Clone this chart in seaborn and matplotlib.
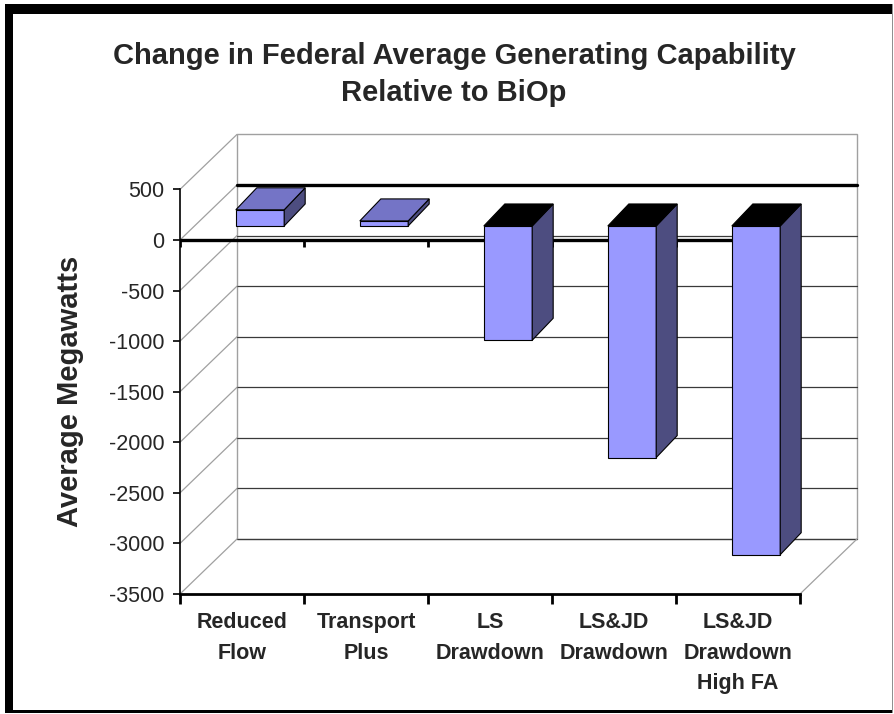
import matplotlib
matplotlib.use("Agg")
import matplotlib.pyplot as plt
import matplotlib.transforms as mtransforms
from matplotlib.patches import Polygon, Rectangle
import numpy as np
import pandas as pd
import seaborn as sns

# Données
categories = ["Reduced\nFlow", "Transport\nPlus", "LS\nDrawdown",
              "LS&JD\nDrawdown", "LS&JD\nDrawdown\nHigh FA"]
megawatts = [160, 50, -1130, -2290, -3250]
y_ticks = [500, 0, -500, -1000, -1500, -2000, -2500, -3000, -3500]
y_tick_labels = ["500", "0", "-500", "-1000", "-1500", "-2000", "-2500", "-3000", "-3500"]

FRONT = "#9999FF"
TOP = "#7474C6"
SIDE = "#4D4D80"
WALL_EDGE = "#A0A0A0"
W, H = 895, 714

# décalages "3D" en pixels (x vers la droite, y vers le haut)
WALL_OFF = np.array([57.0, 55.0])
BAR_FRONT_OFF = np.array([18.0, 14.0])
BAR_DEPTH = np.array([21.0, 22.0])

sns.set_theme(style="white")
plt.rcParams["font.family"] = ["Liberation Sans", "DejaVu Sans"]
plt.rcParams["axes.unicode_minus"] = False

fig = plt.figure(figsize=(W / 100, H / 100), dpi=100)
fig.patch.set_facecolor("white")


def fig_rect(x, y, w, h, **kw):
    # rectangle en pixels image (origine en haut à gauche)
    fig.patches.append(Rectangle((x / W, 1 - (y + h) / H), w / W, h / H,
                                 transform=fig.transFigure, **kw))


# cadre noir autour du graphique
fig_rect(5, 4, 888, 10, facecolor="black", edgecolor="none")
fig_rect(5, 4, 8, 709, facecolor="black", edgecolor="none")
fig_rect(5, 710, 888, 3, facecolor="black", edgecolor="none")
fig_rect(892, 4, 1, 709, facecolor="#909090", edgecolor="none")

ax = fig.add_axes([180 / W, (H - 594) / H, 620 / W, (594 - 189.4) / H])
ax.set_facecolor("none")

df = pd.DataFrame({"scenario": categories, "mw": megawatts})
sns.barplot(data=df, x="scenario", y="mw", ax=ax, color=FRONT, saturation=1,
            width=0.39, edgecolor="black", linewidth=0.8, zorder=3)
bars = list(ax.patches)

ax.set_xlim(-0.5, len(categories) - 0.5)
ax.set_ylim(-3500, 500)
x_lo, x_hi = ax.get_xlim()

ident = mtransforms.IdentityTransform()


def disp(x, y):
    return ax.transData.transform((x, y))


# mur du fond + quadrillage
back = ax.transData + mtransforms.Affine2D().translate(*WALL_OFF)
ax.add_patch(Rectangle((x_lo, -3500), x_hi - x_lo, 4000, transform=back,
                       facecolor="white", edgecolor=WALL_EDGE, lw=1.0,
                       zorder=0.5, clip_on=False))
for t in y_ticks[1:]:
    if t == 0:
        ax.plot([x_lo, x_hi], [t, t], transform=back, color="black", lw=2.4,
                zorder=0.7, clip_on=False)
    else:
        ax.plot([x_lo, x_hi], [t, t], transform=back, color="#3a3a3a", lw=0.9,
                zorder=0.6, clip_on=False)

# mur de gauche (diagonales) et plancher
for t in y_ticks:
    p0 = disp(x_lo, t)
    p1 = p0 + WALL_OFF
    ax.plot([p0[0], p1[0]], [p0[1], p1[1]], transform=ident, color=WALL_EDGE,
            lw=0.9, zorder=0.6, clip_on=False)
p0 = disp(x_hi, -3500)
p1 = p0 + WALL_OFF
ax.plot([p0[0], p1[0]], [p0[1], p1[1]], transform=ident, color=WALL_EDGE,
        lw=0.9, zorder=0.6, clip_on=False)

# axe des catégories à 0 (derrière les barres)
px_per_unit = disp(0, 0)[1] - disp(0, -1)[1]
bounds = np.arange(x_lo, x_hi + 0.01, 1.0)
ax.axhline(0, color="black", lw=2.4, zorder=1)
ax.vlines(bounds, 0, -7 / px_per_unit, color="black", lw=2.0, zorder=1)

# faces des barres
front_tr = ax.transData + mtransforms.Affine2D().translate(*BAR_FRONT_OFF)
for p, v in zip(bars, megawatts):
    p.set_transform(front_tr)
    p.set_clip_on(False)
    x0 = p.get_x()
    x1 = x0 + p.get_width()
    lo, hi = min(v, 0), max(v, 0)
    fl = disp(x0, hi) + BAR_FRONT_OFF
    fr = disp(x1, hi) + BAR_FRONT_OFF
    br = disp(x1, lo) + BAR_FRONT_OFF
    top = [fl, fr, fr + BAR_DEPTH, fl + BAR_DEPTH]
    side = [fr, br, br + BAR_DEPTH, fr + BAR_DEPTH]
    ax.add_patch(Polygon(side, closed=True, transform=ident, facecolor=SIDE,
                         edgecolor="black", lw=0.8, zorder=3, clip_on=False))
    ax.add_patch(Polygon(top, closed=True, transform=ident,
                         facecolor=TOP if v > 0 else "black",
                         edgecolor="black", lw=0.8, zorder=3, clip_on=False))

# axes
for s in ["top", "right"]:
    ax.spines[s].set_visible(False)
ax.spines["left"].set_color("black")
ax.spines["left"].set_linewidth(1.2)
ax.spines["bottom"].set_color("black")
ax.spines["bottom"].set_linewidth(2.0)

ax.set_yticks(y_ticks)
ax.set_yticklabels(y_tick_labels, fontsize=15.5)
ax.tick_params(axis="y", direction="out", length=5, width=1.2, color="black",
               pad=6, left=True)

ax.set_xticks(range(len(categories)))
ax.set_xticklabels(categories, fontsize=15.5, fontweight="bold", linespacing=1.6)
ax.set_xticks(bounds, minor=True)
ax.tick_params(axis="x", which="major", length=0, pad=13)
ax.tick_params(axis="x", which="minor", direction="out", length=7, width=2.0,
               color="black", bottom=True)
ax.set_xlabel("")
ax.set_ylabel("")

fig.text(454 / W, 1 - 74.5 / H,
         "Change in Federal Average Generating Capability\nRelative to BiOp",
         ha="center", va="center", fontsize=21, fontweight="bold", linespacing=1.38)
fig.text(70 / W, 1 - 391 / H, "Average Megawatts", rotation=90, ha="center",
         va="center", fontsize=21, fontweight="bold")

fig.savefig("out.png", dpi=100)
